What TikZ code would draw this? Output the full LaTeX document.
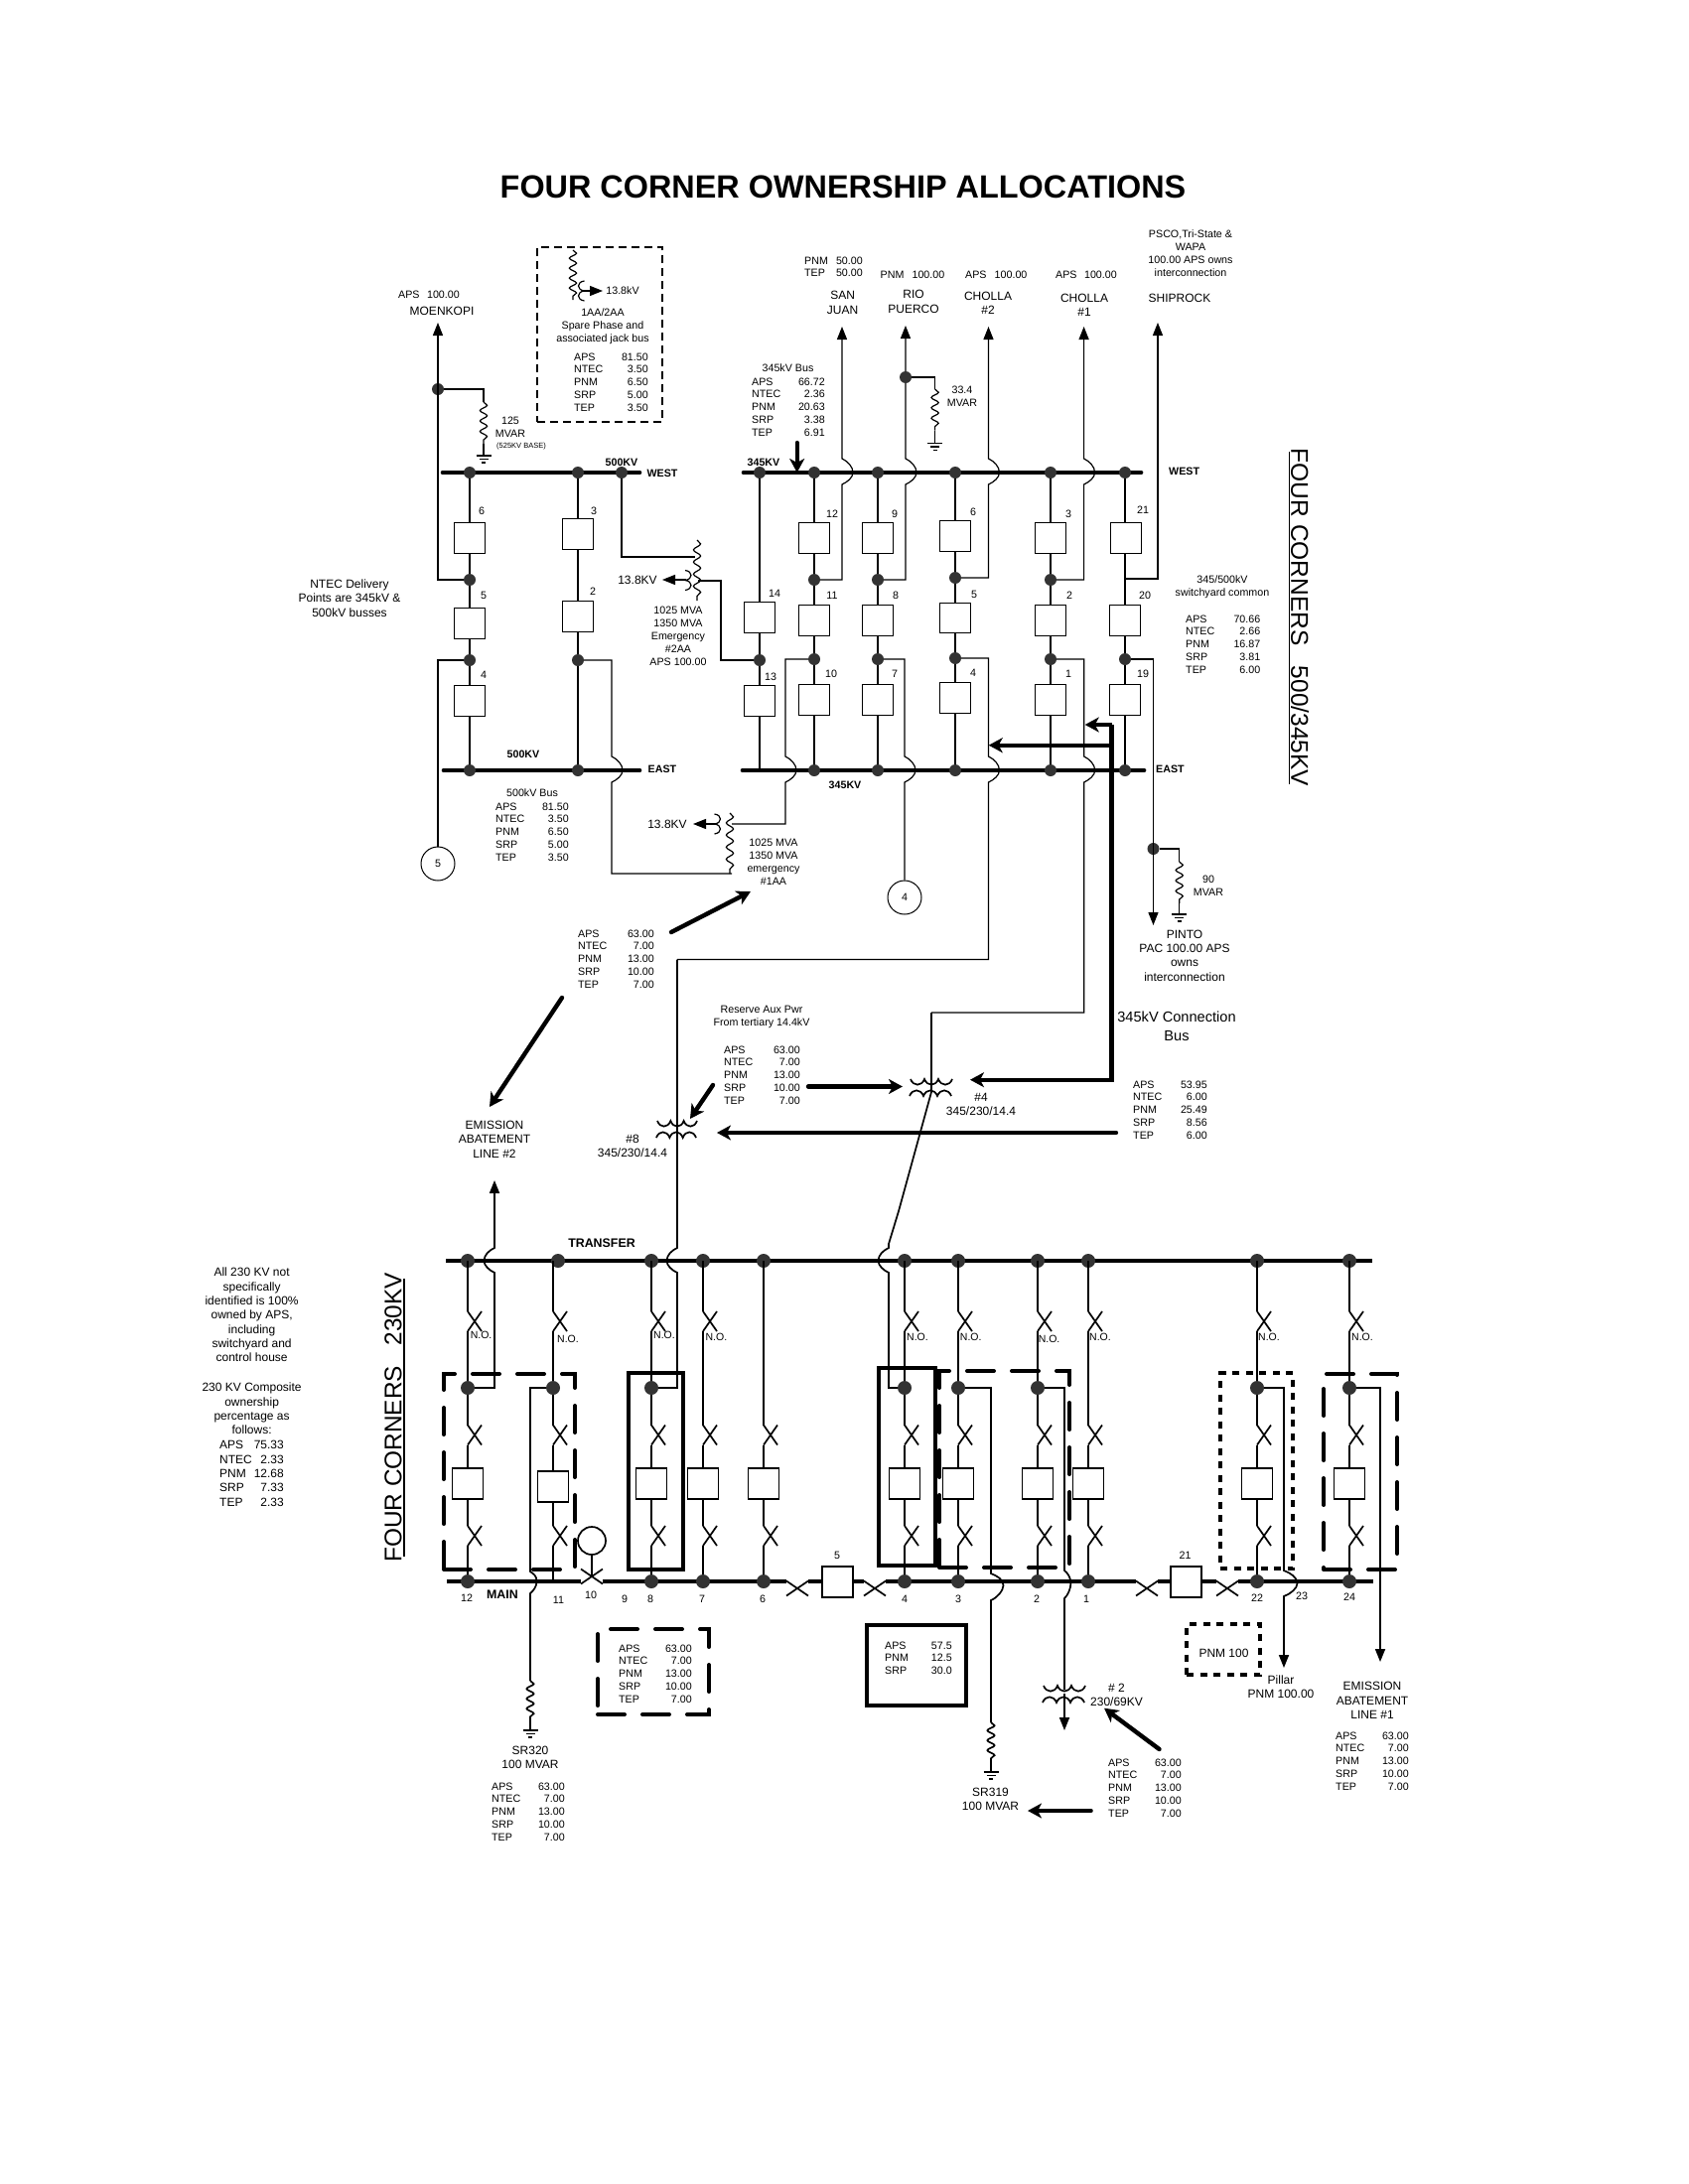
\documentclass[tikz,border=0pt]{standalone}
\usepackage{fontspec}
\setmainfont{Liberation Sans}
\usetikzlibrary{arrows.meta,decorations.pathmorphing,shapes.misc,calc}
\tikzset{
  tipA/.tip={Triangle[length=13pt,width=10pt]},
  tipB/.tip={Stealth[length=14pt,width=15pt,inset=4pt]},
  wire/.style={line width=1.2pt,line join=miter},
  wireb/.style={line width=1.7pt,line join=miter},
  bus/.style={line width=4.7pt,line cap=round},
  busb/.style={line width=3.8pt},
  hvy/.style={line width=4.3pt,line join=miter},
  thk/.style={line width=4.4pt,line cap=round},
  dot/.style={circle,fill=black!80,inner sep=0pt,minimum size=12pt},
  dotb/.style={circle,fill=black!80,inner sep=0pt,minimum size=14pt},
  box/.style={rectangle,draw,line width=1.2pt,fill=white,inner sep=0pt,minimum size=30.5pt},
  boxb/.style={rectangle,draw,line width=1.5pt,fill=white,inner sep=0pt,minimum size=31pt},
  swx/.style={cross out,draw,line width=1.7pt,inner sep=0pt,outer sep=0pt,minimum width=14pt,minimum height=20pt},
  swm/.style={cross out,draw,line width=1.7pt,inner sep=0pt,outer sep=0pt,minimum width=22pt,minimum height=15pt},
  cir/.style={circle,draw,line width=1pt,inner sep=0pt,minimum size=34pt,font=\fontsize{10.7}{13}\selectfont},
  txt/.style={inner sep=0pt,align=center,font=\fontsize{10.7}{13}\selectfont},
  big/.style={font=\fontsize{12}{14.3}\selectfont},
  bld/.style={font=\fontsize{10.7}{13}\selectfont\bfseries},
  bldb/.style={font=\fontsize{12.4}{14}\selectfont\bfseries},
  tl/.style={inner sep=0pt,anchor=west,text height=8pt,text depth=0pt,font=\fontsize{10.7}{13}\selectfont},
  tr/.style={inner sep=0pt,anchor=east,text height=8pt,text depth=0pt,font=\fontsize{10.7}{13}\selectfont},
  dbox/.style={rectangle,draw,line width=4pt,inner sep=0pt,outer sep=0pt,dash pattern=on 27pt off 18pt,line cap=round},
  sbox/.style={rectangle,draw,line width=4pt,inner sep=0pt,outer sep=0pt},
  obox/.style={rectangle,draw,line width=4pt,inner sep=0pt,outer sep=0pt,dash pattern=on 7pt off 6.5pt},
  kbox/.style={rectangle,draw,line width=1.8pt,inner sep=0pt,outer sep=0pt,dash pattern=on 8pt off 5pt},
  snk/.style={decorate,line width=1.2pt},
  snkb/.style={decorate,line width=1.7pt},
}
\newcount\lc
\newcommand{\T}[4][]{\global\advance\lc by 1\relax\node[txt,name=lab\the\lc,#1] at (#2,#3) {#4};}
\newcommand{\tbl}[5]{\foreach \ka/\kb [count=\kn from 0] in #5 {\pgfmathsetmacro\kyy{#4+12.9*\kn}\node[tl,name=#1a\kn] at (#2,\kyy) {\ka};\node[tr,name=#1b\kn] at (#3,\kyy) {\kb};}}
\def\rStd{APS/63.00,NTEC/7.00,PNM/13.00,SRP/10.00,TEP/7.00}
\def\rAA{APS/81.50,NTEC/3.50,PNM/6.50,SRP/5.00,TEP/3.50}
\def\rBus{APS/66.72,NTEC/2.36,PNM/20.63,SRP/3.38,TEP/6.91}
\def\rCom{APS/70.66,NTEC/2.66,PNM/16.87,SRP/3.81,TEP/6.00}
\def\rCon{APS/53.95,NTEC/6.00,PNM/25.49,SRP/8.56,TEP/6.00}
\def\rOwn{APS/57.5,PNM/12.5,SRP/30.0}
\def\rSJ{PNM/50.00,TEP/50.00}
% jump over a bus: x, top y, bus y, bottom y, bulge
\newcommand{\jmp}[5]{-- (#1,#2) .. controls (#1+0.5*#5,#2+2.5) and (#1+#5,#3-6) .. (#1+#5,#3) .. controls (#1+#5,#3+5) and (#1+0.5*#5,#4-2.5) .. (#1,#4)}
% vertical coil: x,y1,y2,n,style
\newcommand{\coilv}[5]{\pgfmathsetmacro\cseg{(#3-#2)/#4}\draw[#5,decoration={snake,segment length=\cseg pt,amplitude=3.6pt}] (#1,#2) -- (#1,#3);}
% transformer winding made of scallops: x1,x2,cusp y,dir
\newcommand{\wind}[4]{\pgfmathsetmacro\wseg{(#2-#1)/3}\draw[line width=1.7pt,line join=miter]
  (#1,#3) .. controls (#1+0.2*\wseg,#3+#4*7.5) and (#1+0.8*\wseg,#3+#4*7.5) .. (#1+\wseg,#3)
  .. controls (#1+1.2*\wseg,#3+#4*7.5) and (#1+1.8*\wseg,#3+#4*7.5) .. (#1+2*\wseg,#3)
  .. controls (#1+2.2*\wseg,#3+#4*7.5) and (#1+2.8*\wseg,#3+#4*7.5) .. (#2,#3);}
% crescent secondary: x,ycentre,dir
\newcommand{\cres}[3]{\draw[wire] (#1,#2-10) .. controls (#1+#3*8,#2-9) and (#1+#3*8,#2-1) .. (#1,#2) .. controls (#1+#3*8,#2+1) and (#1+#3*8,#2+9) .. (#1,#2+10);}
% ground
\newcommand{\gnd}[3]{\coordinate (#1) at (#2,#3);\draw[wire] (#2-7.5,#3) -- (#2+7.5,#3) (#2-4.5,#3+3.5) -- (#2+4.5,#3+3.5) (#2-2,#3+7) -- (#2+2,#3+7);}
% heavy arrow between two named free ends
\newcommand{\harrow}[5]{\coordinate (#1s) at (#2,#3);\coordinate (#1e) at (#4,#5);\draw[thk,-tipB] (#1s) -- (#1e);}
% 345 kV breaker-and-a-half column
\newcommand{\colH}[7]{%
  \node[dot] (#1w) at (#2,476) {};
  \node[box] (#1a) at (#2,#3) {};
  \node[dot] (#1u) at (#2,#6) {};
  \node[box] (#1b) at (#2,#4) {};
  \node[dot] (#1v) at (#2,#7) {};
  \node[box] (#1c) at (#2,#5) {};
  \node[dot] (#1e) at (#2,776) {};
  \draw[wire] (#1w) -- (#1a) (#1a) -- (#1u) (#1u) -- (#1b) (#1b) -- (#1v) (#1v) -- (#1c) (#1c) -- (#1e);}
% 230 kV bay: name,x,topswitch,upperdot,boxy,maindot,transfer-dot x
\newcommand{\bay}[7]{%
  \node[dotb] (T#1) at (#7,1270) {};
  \coordinate (TT#1) at (#2,1270);
  \node[swx] (A#1) at (#2+7,1445.5) {};
  \node[boxb] (B#1) at (#2,#5) {};
  \node[swx] (C#1) at (#2+7,1547) {};
  \ifnum#6=1 \node[dotb] (D#1) at (#2,1593) {};\else\coordinate (D#1) at (#2,1593);\fi
  \draw[wireb] (A#1.south west) -- (B#1);
  \draw[wireb] (B#1) -- (C#1.north west);
  \draw[wireb] (C#1.south west) -- (D#1);
  \ifnum#4=1 \node[dotb] (M#1) at (#2,1398) {};\fi
  \ifnum#3=1
    \node[swx] (U#1) at (#2+7,1331) {};
    \draw[wireb] (TT#1) -- (U#1.north west);
    \ifnum#4=1
      \draw[wireb] (U#1.south west) -- (M#1);
      \draw[wireb] (M#1) -- (A#1.north west);
    \else
      \draw[wireb] (U#1.south west) -- (A#1.north west);
    \fi
  \else
    \draw[wireb] (TT#1) -- (A#1.north west);
  \fi}
\begin{document}
\begin{tikzpicture}[x=1pt,y=-1pt]
\useasboundingbox[fill=white] (0,0) rectangle (1700,2200);
% ---------- title
\node[inner sep=0pt,font=\fontsize{32.4}{36}\selectfont\bfseries] (title) at (849,188) {FOUR CORNER OWNERSHIP ALLOCATIONS};
\node[inner sep=0pt,rotate=-90,font=\fontsize{24.5}{28}\selectfont] (side1) at (1309,622) {FOUR CORNERS\ \ \ 500/345KV};
\coordinate (ul1a) at (1298.6,455);\coordinate (ul1b) at (1298.6,790);
\draw[line width=1.3pt] (ul1a) -- (ul1b);
\node[inner sep=0pt,rotate=90,font=\fontsize{24.4}{28}\selectfont] (side2) at (396,1428) {FOUR CORNERS\ \ \ 230KV};
\coordinate (ul2a) at (407,1288);\coordinate (ul2b) at (407,1568);
\draw[line width=1.3pt] (ul2a) -- (ul2b);
% ---------- buses
\coordinate (w5L) at (446,476);\coordinate (w5R) at (644,476);
\coordinate (e5L) at (447,776);\coordinate (e5R) at (644,776);
\coordinate (w3L) at (749,476);\coordinate (w3R) at (1149,476);
\coordinate (e3L) at (748,776);\coordinate (e3R) at (1152,776);
\draw[bus] (w5L) -- (w5R);\draw[bus] (e5L) -- (e5R);
\draw[bus] (w3L) -- (w3R);\draw[bus] (e3L) -- (e3R);
% ---------- 500 kV columns
\node[dot] (pw1) at (473,476) {};\node[dot] (pw2) at (582,476) {};\node[dot] (pw3) at (626,476) {};
\node[dot] (pe1) at (473,776) {};\node[dot] (pe2) at (582,776) {};
\node[box] (L6) at (473,542) {};\node[dot] (Lm1) at (473,584) {};
\node[box] (L5) at (473,628) {};\node[dot] (Lm2) at (473,665) {};
\node[box] (L4) at (473,706) {};
\node[box] (L3) at (582,538) {};\node[box] (L2) at (582,621) {};\node[dot] (Lm3) at (582,665) {};
\draw[wire] (pw1) -- (L6) (L6) -- (Lm1) (Lm1) -- (L5) (L5) -- (Lm2) (Lm2) -- (L4) (L4) -- (pe1);
\draw[wire] (pw2) -- (L3) (L3) -- (L2) (L2) -- (Lm3) (Lm3) -- (pe2);
% Moenkopi
\coordinate (mkT) at (441,325);
\node[dot] (mkd) at (441,392) {};
\draw[wire,tipA-] (mkT) -- (441,584) -- (Lm1);
\coordinate (mkc) at (487,405);
\draw[wire] (mkd) -| (mkc);
\coilv{487}{405}{447}{4}{snk}
\gnd{mkg}{487}{459}
\draw[wire] (487,447) -- (mkg);
\node[cir] (cir5) at (441,870) {5};
\draw[wire] (Lm2) -- (441,665) -- (cir5);
% transformer 2AA
\coilv{702}{544}{605}{5}{snk}
\cres{690}{584.5}{1}
\coordinate (x2a) at (700,561);\coordinate (x2b) at (703,585);
\coordinate (x2t) at (667,584);\coordinate (x2s) at (691,584);
\draw[wire,-tipA] (x2s) -- (x2t);
\draw[wire] (pw3) |- (x2a);
% transformer 1AA
\coilv{735}{819}{880}{5}{snk}
\cres{719.5}{830}{1}
\coordinate (x1a) at (737,880);\coordinate (x1b) at (737,830);
\coordinate (x1t) at (698,830);\coordinate (x1s) at (720,830);
\draw[wire,-tipA] (x1s) -- (x1t);
\draw[wire] (Lm3) -- (616,665) \jmp{616}{762}{776}{788}{11} -- (616,880) -- (x1a);
% spare phase
\node[kbox,minimum width=126pt,minimum height=176pt] (spare) at (604,337) {};
\coilv{577}{252}{302}{5}{snk}
\cres{588.5}{293}{-1}
\coordinate (sps) at (588,293);\coordinate (spt) at (607,293);
\draw[wire,-tipA] (sps) -- (spt);
% ---------- 345 kV columns
\colH{c12}{820}{542}{625}{705}{584}{664}
\colH{c9}{884}{542}{625}{705}{584}{664}
\colH{c6}{962}{540}{622.5}{703}{582}{663}
\colH{c3}{1058}{542}{625}{705}{584}{664}
\node[dot] (c14w) at (765,476) {};
\node[box] (c14a) at (765,622) {};\node[dot] (c14v) at (765,665) {};\node[box] (c14c) at (765,706) {};
\coordinate (c14e) at (765,776);
\draw[wire] (c14w) -- (c14a) (c14a) -- (c14v) (c14v) -- (c14c) (c14c) -- (c14e);
\node[dot] (c21w) at (1133,476) {};\node[box] (c21a) at (1134,542) {};\coordinate (c21u) at (1133,583);
\node[box] (c21b) at (1133,625) {};\node[dot] (c21v) at (1133,664) {};\node[box] (c21c) at (1133,705) {};\node[dot] (c21e) at (1133,776) {};
\draw[wire] (c21w) -- (c21a.north-|c21w) (c21a.south-|c21w) -- (c21u) (c21u) -- (c21b) (c21b) -- (c21v) (c21v) -- (c21c) (c21c) -- (c21e);
% transformer 2AA to column 14
\draw[wire] (x2b) -- (726,585) -- (726,665) -- (c14v);
% 1AA to column 11
\draw[wire] (c12v) -- (791,664) \jmp{791}{762}{776}{788}{11} -- (791,830) -- (x1b);
% outgoing lines, west side
\coordinate (sjT) at (848,329);\coordinate (rpT) at (912,328);\coordinate (ch2T) at (995.5,329);\coordinate (ch1T) at (1091.6,329);\coordinate (shT) at (1166,325);
\draw[wire,tipA-] (sjT) \jmp{848}{462}{476}{488}{11} -- (848,584) -- (c12u);
\draw[wire,tipA-] (rpT) \jmp{912}{462}{476}{488}{11} -- (912,584) -- (c9u);
\draw[wire,tipA-] (ch2T) \jmp{995.5}{462}{476}{488}{11} -- (995.5,582) -- (c6u);
\draw[wire,tipA-] (ch1T) \jmp{1091.6}{462}{476}{488}{11} -- (1091.6,584) -- (c3u);
\draw[wire,tipA-] (shT) -- (1166,583) -- (c21u);
% Rio Puerco reactor
\node[dot] (rpd) at (912,380) {};
\coordinate (rpc) at (941.6,392);
\draw[wire] (rpd) -| (rpc);
\coilv{941.6}{392}{433.5}{4}{snk}
\gnd{rpg}{941.6}{446.5}
\draw[wire] (941.6,433.5) -- (rpg);
% east side
\node[cir] (cir4) at (911,904) {4};
\draw[wire] (c9v) -- (911,664) \jmp{911}{762}{776}{788}{11} -- (cir4);
\coordinate (crn8) at (682,966.5);
\draw[wire] (c6v) -- (995.5,663) \jmp{995.5}{762}{776}{788}{11} -- (995.5,966.5) -- (crn8);
\coordinate (crn4) at (938,1020);
\draw[wire] (c3v) -- (1091.7,664) \jmp{1091.7}{762}{776}{788}{11} -- (1091.7,1020) -- (crn4);
% Pinto
\coordinate (pnT) at (1161.5,932);
\node[dot] (pnd) at (1161.5,855) {};
\draw[wire,-tipA] (c21v) -- (1161.5,664) -- (pnT);
\coordinate (pnc) at (1187.7,868);
\draw[wire] (pnd) -| (pnc);
\coilv{1187.7}{868}{910}{4}{snk}
\gnd{png}{1187.7}{921}
\draw[wire] (1187.7,910) -- (png);
% 345 kV connection bus
\coordinate (hb1) at (1119.5,730);\coordinate (hb2) at (1119.5,750.7);\coordinate (hb3) at (1119.5,1087.7);
\coordinate (ht1) at (1092.7,730);\coordinate (ht2) at (995.7,750.7);\coordinate (ht3) at (977,1087.7);
\draw[hvy,-tipB] (hb2) -- (ht2);
\draw[hvy,-tipB] (hb1) -- (ht1);
\draw[hvy,-tipB] (hb1) -- (hb3) -- (ht3);
% transformers 8 and 4
\wind{662}{702}{1129}{1}
\wind{661}{701}{1146}{-1}
\wind{917}{959}{1087}{1}
\wind{916}{958}{1104}{-1}
\draw[wireb] (crn4) -- (938,1100);
% heavy arrows
\harrow{a1}{676}{939}{756}{898}
\harrow{a2}{566}{1005}{493}{1115}
\harrow{a3}{718}{1093}{695}{1127}
\harrow{a4}{1124}{1141}{722}{1141}
\harrow{a5}{814}{1094.5}{909}{1094.5}
\harrow{a6}{1098.6}{1824}{1035}{1824}
\harrow{a7}{1167.5}{1762}{1112}{1720.7}
\coordinate (arT) at (802.7,446);\coordinate (arB) at (802.7,476);
\draw[thk,-tipB] (arT) -- (arB);
% ---------- 230 kV ownership boxes
\node[dbox,minimum width=132pt,minimum height=197pt] (bx1) at (513,1482.5) {};
\node[sbox,minimum width=55pt,minimum height=198pt] (bx2) at (660.5,1482) {};
\node[sbox,minimum width=57pt,minimum height=199pt] (bx3) at (913.5,1477.5) {};
\node[dbox,minimum width=131pt,minimum height=198pt] (bx4) at (1011.5,1480) {};
\node[obox,minimum width=73pt,minimum height=197pt] (bx5) at (1265.5,1481.5) {};
\node[dbox,minimum width=74pt,minimum height=197pt] (bx6) at (1370,1482.5) {};
\node[dbox,minimum width=112pt,minimum height=86pt] (bx7) at (658,1684) {};
\node[sbox,minimum width=100.5pt,minimum height=81pt] (bx8) at (923.2,1677.5) {};
\node[obox,minimum width=74pt,minimum height=51pt] (bx9) at (1232,1661.5) {};
% ---------- 230 kV buses
\coordinate (tL) at (449,1270);\coordinate (tR) at (1382,1270);
\draw[busb] (tL) -- (tR);
\coordinate (mL) at (450,1593);\coordinate (mR) at (1383,1593);
\node[swm] (X10) at (596,1588) {};
\node[swm] (X1) at (803,1600) {};\node[swm] (X2) at (881,1600) {};
\node[swm] (X3) at (1155,1600) {};\node[swm] (X4) at (1236,1600) {};
\draw[busb] (mL) -- (X10.west|-mL);
\draw[busb] (X10.east|-mL) -- (X1.north west|-mL);
\draw[busb] (X1.north east|-mL) -- (X2.north west|-mL);
\draw[busb] (X2.north east|-mL) -- (X3.north west|-mL);
\draw[busb] (X3.north east|-mL) -- (X4.north west|-mL);
\draw[busb] (X4.north east|-mL) -- (mR);
\node[boxb] (BT5) at (843.5,1593.5) {};
\node[boxb] (BT21) at (1194.5,1593.5) {};
\node[circle,draw,line width=1.7pt,inner sep=0pt,minimum size=28pt] (g10) at (596,1552) {};
\draw[wireb] (g10) -- (X10.center);
% ---------- 230 kV bays
\bay{12}{471}{1}{1}{1494.5}{1}{471}
\bay{11}{557}{1}{1}{1497.5}{0}{562}
\bay{8}{656}{1}{1}{1494.5}{1}{656}
\bay{7}{708}{1}{0}{1494.5}{1}{708}
\bay{6}{769}{0}{0}{1494.5}{1}{769}
\bay{4}{911}{1}{1}{1494.5}{1}{911}
\bay{3}{965}{1}{1}{1494.5}{1}{965}
\bay{2}{1045}{1}{1}{1494.5}{1}{1045}
\bay{1}{1096}{1}{0}{1494.5}{1}{1096}
\bay{22}{1266}{1}{1}{1494.5}{1}{1266}
\bay{24}{1359}{1}{1}{1494.5}{1}{1359}
% connections
\coordinate (emT) at (498,1189);
\draw[wireb,tipA-] (emT) \jmp{498}{1257}{1270}{1282}{-10.5} -- (498,1398) -- (M12);
\draw[wireb] (crn8) \jmp{682}{1257}{1270}{1282}{-10.5} -- (682,1398) -- (M8);
\draw[wireb] (938,1100) -- (905,1220) -- (895,1253) \jmp{895}{1257}{1270}{1282}{-10.5} -- (895,1398) -- (M4);
\draw[wireb] (M11) -- (534,1398) \jmp{534}{1583}{1593}{1605}{6.5} -- (534,1693);
\coilv{534}{1693}{1733}{4}{snkb}
\gnd{g320}{534}{1743}
\draw[wireb] (534,1733) -- (g320);
\draw[wireb] (M3) -- (998,1398) \jmp{998}{1585}{1597}{1612}{12.5} -- (998,1735);
\coilv{998}{1735}{1775}{4}{snkb}
\gnd{g319}{998}{1785}
\draw[wireb] (998,1775) -- (g319);
\draw[wireb] (M2) -- (1072,1398) \jmp{1072}{1582}{1595}{1610}{6.4} -- (1072,1702);
\wind{1051}{1093}{1698}{1}
\wind{1050}{1092}{1715}{-1}
\coordinate (x2kv) at (1072,1743);
\draw[wireb,-tipA] (1072,1706) -- (x2kv);
\coordinate (pilT) at (1293,1680);
\draw[wireb,-tipA] (M22) -- (1293,1398) \jmp{1293}{1582}{1595}{1608}{13.5} -- (pilT);
\coordinate (em1T) at (1390,1674);
\draw[wireb,-tipA] (M24) -- (1390,1398) -- (em1T);
% ---------- labels, 500 kV part
\T[bld]{626}{466}{500KV}\T[bld]{667}{477}{WEST}
\T[bld]{527}{760}{500KV}\T[bld]{667}{775}{EAST}
\T[bld]{769}{466}{345KV}\T[bld]{1192.6}{475}{WEST}
\T[bld]{851}{791}{345KV}\T[bld]{1178.5}{775}{EAST}
\tbl{moa}{401}{463}{296}{{APS/100.00}}
\T[big]{445}{313}{MOENKOPI}
\T{514}{430.5}{125\\MVAR}
\T[font=\fontsize{7.5}{10}\selectfont]{525}{450}{(525KV BASE)}
\T[big]{352}{602.5}{NTEC Delivery\\Points are 345kV \&\\500kV busses}
\T{627}{293}{13.8kV}
\T{607}{329}{1AA/2AA\\Spare Phase and\\associated jack bus}
\tbl{spa}{578}{653}{359}{\rAA}
\T[big]{642}{584}{13.8KV}
\T{683}{641}{1025 MVA\\1350 MVA\\Emergency\\\#2AA\\APS 100.00}
\T{536}{799}{500kV Bus}
\tbl{b5}{499}{573}{812}{\rAA}
\T[big]{672}{830}{13.8KV}
\T{779}{868.5}{1025 MVA\\1350 MVA\\emergency\\\#1AA}
\foreach \nn/\xx/\yy in {6/485/515,5/487/600,4/487/680,3/598/515,2/597/596}{\node[txt,name=nL\nn] at (\xx,\yy) {\nn};}
% labels, 345 kV part
\tbl{sj}{810}{869}{262}{\rSJ}
\T[big]{848.6}{305}{SAN\\JUAN}
\tbl{rp}{886.5}{951.5}{276}{{PNM/100.00}}
\T[big]{920}{304}{RIO\\PUERCO}
\tbl{c2}{972}{1034.6}{276}{{APS/100.00}}
\T[big]{995}{305}{CHOLLA\\\#2}
\tbl{c1}{1063}{1125}{276}{{APS/100.00}}
\T[big]{1092}{307}{CHOLLA\\\#1}
\T[big]{1188}{300}{SHIPROCK}
\T{1199}{255.5}{PSCO,Tri-State \&\\WAPA\\100.00 APS owns\\interconnection}
\T{793.5}{371}{345kV Bus}
\tbl{bs}{757}{831}{384}{\rBus}
\T{969}{399}{33.4\\MVAR}
\T{1231}{591}{345/500kV\\switchyard common}
\tbl{cm}{1194}{1269.5}{623}{\rCom}
\foreach \nn/\xx/\yy in {14/780/598,13/776/682,12/838/518,11/838/600,10/837/679,9/901/518,8/902/600,7/901/679,6/980/516,5/981/599,4/980/678,3/1076/518,2/1077/600,1/1076/679,21/1151/514,20/1153/600,19/1151/679}{\node[txt,name=nH\nn] at (\xx,\yy) {\nn};}
\T{1217}{892.5}{90\\MVAR}
\T[big]{1193}{962.5}{PINTO\\PAC 100.00 APS\\owns\\interconnection}
\T[font=\fontsize{14.6}{19}\selectfont]{1185}{1033.5}{345kV Connection\\Bus}
\tbl{cn}{1141}{1216}{1092}{\rCon}
\tbl{ab}{582}{659}{940}{\rStd}
\T[big]{498}{1147.5}{EMISSION\\ABATEMENT\\LINE \#2}
\T{767}{1024.5}{Reserve Aux Pwr\\From tertiary 14.4kV}
\tbl{rs}{729}{806}{1057}{\rStd}
\T[big]{637}{1154.5}{\#8\\345/230/14.4}
\T[big]{988}{1112.5}{\#4\\345/230/14.4}
% labels, 230 kV part
\T[bldb]{606}{1252}{TRANSFER}
\T[bldb]{506}{1606}{MAIN}
\T[big]{253.6}{1324.5}{All 230 KV not\\specifically\\identified is 100\%\\owned by APS,\\including\\switchyard and\\control house}
\T[big]{253.6}{1419}{230 KV Composite\\ownership\\percentage as\\follows:}
\foreach \ka/\kb/\yy in {APS/75.33/1455,NTEC/2.33/1470,PNM/12.68/1484,SRP/7.33/1498,TEP/2.33/1513}{\node[tl,big,name=cp\ka] at (221,\yy) {\ka};\node[tr,big,name=cq\ka] at (286,\yy) {\kb};}
\foreach \nn/\xx/\yy in {484.6/484.6/1345,572/572/1349,669/669/1345,721.4/721.4/1347,924/924/1347,977.7/977.7/1347,1056.6/1056.6/1349,1108/1108/1347,1278/1278/1347,1372/1372/1347}{\node[txt,name=no\nn,font=\fontsize{10.5}{13}\selectfont] at (\xx,\yy) {N.O.};}
\foreach \nn/\xx/\yy in {12/470/1610,11/562.5/1612,10/595/1607,9/629/1611,8/655/1611,7/707/1611,6/768/1611,5/843/1567,4/911/1611,3/965/1611,2/1044/1611,1/1094/1611,21/1193.5/1567,22/1266/1610,23/1311/1608,24/1359/1609}{\node[txt,name=nM\nn] at (\xx,\yy) {\nn};}
\tbl{ta}{623}{697}{1660}{\rStd}
\tbl{tb}{891}{959}{1657}{\rOwn}
\T[big]{1232.5}{1665}{PNM 100}
\T[big]{534}{1770.5}{SR320\\100 MVAR}
\tbl{tc}{495}{569}{1799}{\rStd}
\T[big]{997.5}{1812.5}{SR319\\100 MVAR}
\tbl{td}{1116}{1190}{1775}{\rStd}
\T[big]{1124.5}{1707}{\# 2\\230/69KV}
\T[big]{1290}{1699}{Pillar\\PNM 100.00}
\T[big]{1382}{1713}{EMISSION\\ABATEMENT\\LINE \#1}
\tbl{te}{1345}{1419}{1748}{\rStd}
\end{tikzpicture}
\end{document}
